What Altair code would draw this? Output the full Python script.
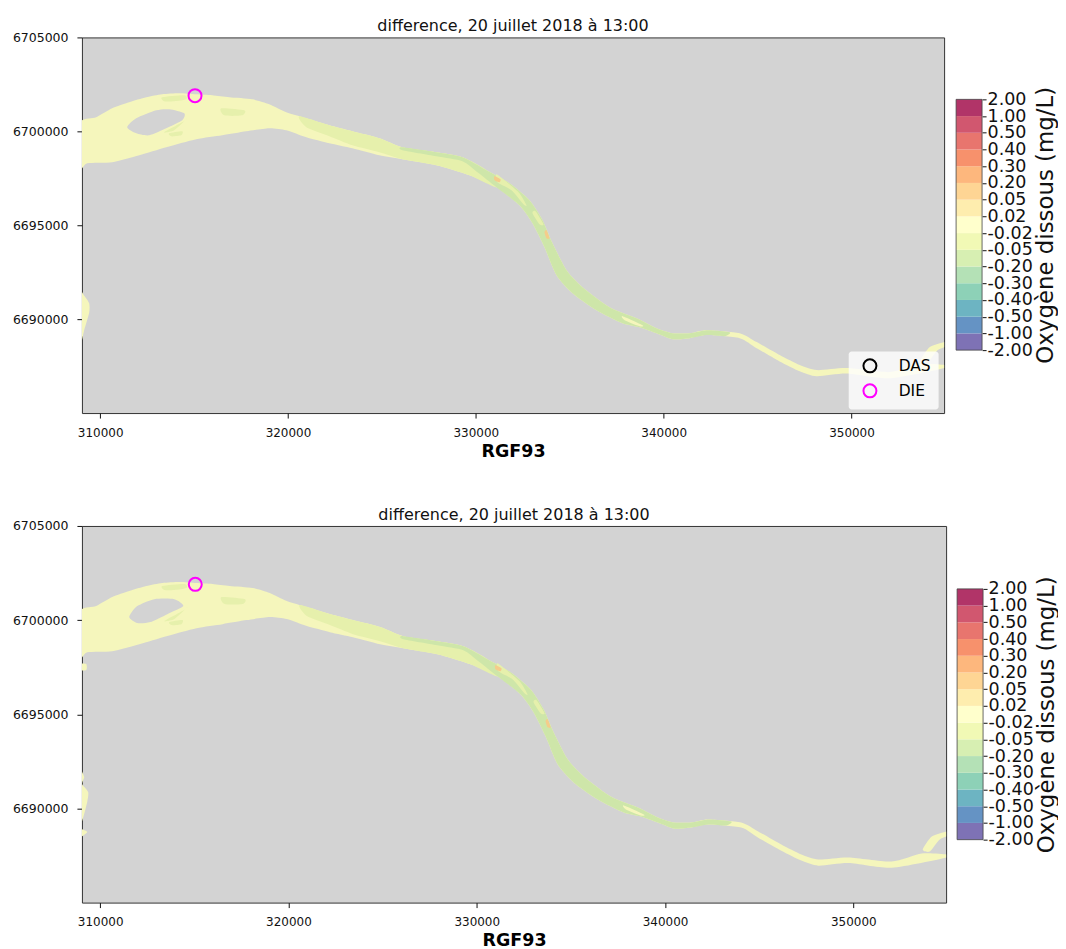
import altair as alt
import pandas as pd

TITLE = "difference, 20 juillet 2018 à 13:00"
CB_COLORS = ["#7e72b5","#6593c4","#6db4c2","#8dd1b7","#b4e1b6","#d7efb2","#f1f9b5","#ffffcc","#feedae","#fed594","#fdb77d","#f7916c","#e8756e","#d1576f","#b13468"]
CB_TICKS = ["-2.00","-1.00","-0.50","-0.40","-0.30","-0.20","-0.05","-0.02","0.02","0.05","0.20","0.30","0.40","0.50","1.00","2.00"]

CLASSES = ["yellow","lightgreen","green","orange","ground"]
CLASS_COLORS = ["#f5f6bc","#e6f0ac","#cee6a9","#f5cc8b","#d3d3d3"]

RIVER_X = [308900,309787,310639,311545,312451,313303,314209,315115,315967,316873,318099,319004,319910,320976,322201,323427,324865,326091,327902,329287,330566,331792,332857,333550,334083,334829,335681,337120,338558,339624,340476,341382,342288,344046,344952,346177,347243,348148,349747,352038,353636,354968,
           354968,352038,349747,348148,347243,346177,344952,344046,342288,341382,340476,339624,338718,337812,336427,335148,334296,333656,333017,332324,331099,329660,327902,326091,324865,323427,322201,320976,319910,319004,317779,316500,315115,313516,312078,310639,309307,308900]
RIVER_Y = [6700426,6700745,6701223,6701543,6701808,6701968,6702021,6701968,6701915,6701808,6701702,6701436,6701011,6700691,6700319,6700000,6699628,6699149,6698883,6698617,6697926,6697234,6696330,6695266,6694043,6692606,6691702,6690638,6690053,6689521,6689255,6689255,6689415,6689255,6688777,6688085,6687553,6687287,6687394,6687181,6687606,6687553,
           6687394,6686850,6687100,6686960,6687230,6687750,6688450,6688989,6689150,6688989,6688936,6689255,6689575,6689787,6690479,6691383,6692340,6693830,6695107,6696064,6697021,6697660,6698191,6698511,6698723,6699096,6699362,6699681,6700053,6700160,6700000,6699787,6699574,6699149,6698723,6698351,6698298,6697979]
BRANCH_X = [353690,354170,354968,355235,355235,354595,354063]
BRANCH_Y = [6687819,6688511,6688777,6688777,6688617,6688351,6687713]

LG_X = [320603,322201,323427,324865,326091,327902,329287,330566,331099,329660,327902,326091,324865,323427,322201,320976]
LG_Y = [6700798,6700319,6700000,6699628,6699149,6698883,6698617,6697926,6697021,6697660,6698191,6698511,6698883,6699255,6699734,6700213]
G_X = [326091,327902,329287,330566,331792,332857,333550,334083,334829,335681,337120,338558,339624,340476,341382,342288,343513,
       343247,342288,341382,340476,339624,338718,337812,336427,335148,334296,333656,333017,332324,331099,330087,329287,327902,326091]
G_Y = [6699149,6698883,6698617,6697926,6697234,6696330,6695266,6694043,6692606,6691702,6690638,6690053,6689521,6689255,6689255,6689415,6689309,
       6689096,6689150,6688989,6688936,6689255,6689575,6689787,6690479,6691383,6692340,6693830,6695107,6696064,6697021,6697819,6698404,6698670,6698989]

S1_X = [331099,331792,332324,332697,332537,331898,331152]
S1_Y = [6697713,6697181,6696702,6696064,6696117,6696862,6697287]
S2_X = [333177,333603,333390,333017]
S2_Y = [6695745,6695053,6695053,6695638]
S3_X = [337812,338878,338718,337918]
S3_Y = [6690160,6689681,6689628,6689947]
O1_X = [330993,331312,331259,330993]
O1_Y = [6697606,6697447,6697287,6697394]
O2_X = [333763,333923,333763,333656]
O2_Y = [6694734,6694309,6694309,6694628]
A_X = [313303,314476,314582,313943,313410]
A_Y = [6701808,6701915,6701702,6701596,6701596]
B_X = [316447,317672,317566,316607]
B_Y = [6701223,6701117,6700851,6700851]
C_X = [313410,314369,314635,313943]
C_Y = [6699947,6700479,6700691,6700053]
D_X = [313676,314369,314316,313783]
D_Y = [6699894,6700000,6699787,6699734]

ISLAND1_X = [311439,311918,312984,313676,314476,314369,313516,312611,311918]
ISLAND1_Y = [6700213,6700691,6701117,6701170,6700957,6700585,6700160,6699787,6699894]
ISLAND2_X = [311543,311968,312873,313937,314416,313564,312660,311968]
ISLAND2_Y = [6700160,6700743,6701114,6701114,6700743,6700318,6699894,6699841]

PATCH1_X = [308900,309150,309414,309414,309150,308900]
PATCH1_Y = [6691436,6691250,6690851,6690340,6689415,6688510]
PATCH2_X = [308900,309150,309040,309360,309310,309040,308900]
PATCH2_Y = [6691990,6691670,6691300,6690875,6690345,6689335,6689335]
PATCH3_X = [308900,309310,309000,308900]
PATCH3_Y = [6688910,6688750,6688490,6688490]
PATCH4_X = [308900,309260,309260,308900]
PATCH4_Y = [6697670,6697670,6697350,6697350]

LEGEND_NAMES = ["DAS","DIE"]
LEGEND_COLORS = ["black","magenta"]
SITE_NAMES = ["DIE"]
SITE_X = [315050]
SITE_Y = [6701900]


def table(polys):
    rows = []
    for n, (cls, xs, ys) in enumerate(polys):
        for k, (x, y) in enumerate(zip(xs, ys)):
            rows.append({"poly": f"p{n:02d}", "cls": cls, "k": k, "x": x, "y": y})
    return pd.DataFrame(rows)


COMMON = [("yellow",RIVER_X,RIVER_Y),("yellow",BRANCH_X,BRANCH_Y),("lightgreen",LG_X,LG_Y),("green",G_X,G_Y),
          ("lightgreen",S1_X,S1_Y),("lightgreen",S2_X,S2_Y),("yellow",S3_X,S3_Y),("orange",O1_X,O1_Y),("orange",O2_X,O2_Y),
          ("lightgreen",A_X,A_Y),("lightgreen",B_X,B_Y),("lightgreen",C_X,C_Y),("lightgreen",D_X,D_Y)]
TOP = COMMON + [("ground",ISLAND1_X,ISLAND1_Y),("yellow",PATCH1_X,PATCH1_Y)]
BOTTOM = COMMON + [("ground",ISLAND2_X,ISLAND2_Y),("yellow",PATCH2_X,PATCH2_Y),("yellow",PATCH3_X,PATCH3_Y),("yellow",PATCH4_X,PATCH4_Y)]

XDOM = [309030, 354930]
YDOM = [6685000, 6705000]
FONT = "DejaVu Sans"
cb_df = pd.DataFrame({"lo": list(range(15)), "hi": list(range(1, 16)), "c": CB_COLORS})
label_expr = "[" + ",".join(f"'{t}'" for t in CB_TICKS) + "]"


def panel(polys, w, h, ext, cbx):
    xs = alt.Scale(domain=XDOM, nice=False, zero=False)
    ys = alt.Scale(domain=YDOM, nice=False, zero=False)
    xaxis = alt.Axis(values=[310000,320000,330000,340000,350000], format="d", grid=False, title="RGF93",
                     titleFontWeight="bold", titleFontSize=17.5, titlePadding=4, titleColor="black",
                     labelFontSize=12, labelColor="#111", labelPadding=9, tickColor="#111", tickSize=5, domain=False, labelFlush=False)
    yaxis = alt.Axis(values=[6690000,6695000,6700000,6705000], format="d", grid=False, title=None,
                     labelFontSize=12.5, labelColor="#111", labelPadding=9, tickColor="#111", tickSize=5, domain=False,
                     minExtent=ext, maxExtent=ext)
    river = alt.Chart(table(polys)).mark_line(clip=True, strokeWidth=0, interpolate="cardinal-closed", tension=0.3).encode(
        x=alt.X("x:Q", scale=xs, axis=xaxis),
        y=alt.Y("y:Q", scale=ys, axis=yaxis),
        fill=alt.Fill("cls:N", scale=alt.Scale(domain=CLASSES, range=CLASS_COLORS), legend=None),
        detail="poly:N",
        order="k:Q",
    )
    sites = alt.Chart(pd.DataFrame({"name": SITE_NAMES, "x": SITE_X, "y": SITE_Y})).mark_point(
        filled=False, size=169, strokeWidth=2, opacity=1).encode(
        x=alt.X("x:Q", scale=xs, axis=xaxis),
        y=alt.Y("y:Q", scale=ys, axis=None),
        color=alt.Color("name:N", scale=alt.Scale(domain=LEGEND_NAMES, range=LEGEND_COLORS),
                        legend=alt.Legend(title=None, orient="none", legendX=w-96, legendY=314,
                                          fillColor="rgba(255,255,255,0.8)", strokeColor="transparent",
                                          cornerRadius=3, padding=7, symbolSize=169, symbolStrokeWidth=2,
                                          symbolType="circle", symbolOffset=7, labelFontSize=15.5, labelColor="black",
                                          labelOffset=21, rowPadding=3, labelFont=FONT, values=LEGEND_NAMES)),
    )
    cbs = alt.Scale(domain=[0, 15], range=[h-63, h-314], nice=False, zero=False)
    cax = alt.Axis(orient="right", offset=cbx-w, values=list(range(16)),
                   labelExpr=label_expr + "[datum.value]", labelFontSize=17.5, labelColor="#111",
                   tickColor="#111", tickSize=4, domain=False, grid=False, labelOverlap=False,
                   labelPadding=1, labelBound=False, labelFlush=False,
                   title="Oxygène dissous (mg/L)", titleFontSize=22.9, titleFontWeight="normal", titleColor="#111",
                   titleAngle=270, titleBaseline="middle", titlePadding=13, titleFont=FONT)
    bar = alt.Chart(cb_df).mark_rect(clip=False).encode(
        x=alt.value(cbx-26), x2=alt.value(cbx),
        y=alt.Y("lo:Q", scale=cbs, axis=cax),
        y2="hi:Q",
        fill=alt.Fill("c:N", scale=None),
    )
    frame = alt.Chart(pd.DataFrame({"lo": [0], "hi": [15]})).mark_rect(fillOpacity=0, stroke="#444", strokeWidth=0.8).encode(
        x=alt.value(cbx-26), x2=alt.value(cbx),
        y=alt.Y("lo:Q", scale=cbs, axis=None),
        y2="hi:Q",
    )
    return alt.layer(river, sites, bar, frame).resolve_scale(y="independent", fill="independent").properties(
        width=w, height=h,
        title=alt.TitleParams(TITLE, fontSize=16, fontWeight="normal", font=FONT, offset=-3, color="#111"),
    )


chart = alt.vconcat(panel(TOP, 863, 376, 72, 901), panel(BOTTOM, 865, 377, 73, 902), spacing=46).properties(
    padding={"left": 0, "top": 9, "right": -1, "bottom": 0}
).configure(font=FONT).configure_view(fill="lightgrey", stroke="#333", strokeWidth=1)

chart.save("out.html", embed_options={"renderer": "svg", "actions": False})
